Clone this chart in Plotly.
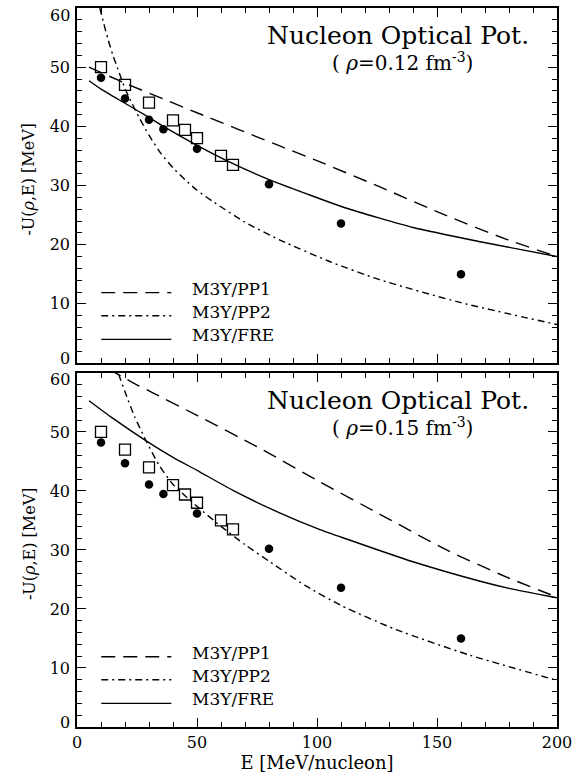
import plotly.graph_objects as go

# ---------------- data ----------------
# experimental points (same in both panels)
E_sq = [10, 20, 30, 40, 45, 50, 60, 65]
U_sq = [50.0, 47.0, 44.0, 41.0, 39.4, 38.0, 35.0, 33.5]
E_ci = [10, 20, 30, 36, 50, 80, 110, 160]
U_ci = [48.2, 44.7, 41.1, 39.5, 36.2, 30.2, 23.6, 15.0]

# rho = 0.12 fm^-3
pp1_E_a = [5, 20, 50, 85, 100, 126, 154, 179, 200]
pp1_U_a = [50.0, 47.3, 42.3, 36.6, 34.2, 29.8, 24.9, 20.9, 18.0]
pp2_E_a = [9.5, 11, 13, 15, 17, 20, 23, 26, 30, 35, 40, 45, 50, 57, 70, 85, 105, 126, 160, 200]
pp2_U_a = [60.0, 57.6, 54.6, 52.0, 49.7, 46.4, 43.8, 41.4, 38.5, 35.4, 33.0, 31.0, 29.2, 27.2, 23.8, 20.7, 17.2, 14.1, 10.2, 6.5]
fre_E_a = [5, 10, 20, 30, 36, 50, 65, 80, 95, 112, 140, 168, 200]
fre_U_a = [47.7, 46.3, 43.9, 41.5, 40.0, 36.8, 33.7, 31.0, 28.7, 26.2, 22.9, 20.5, 18.0]

# rho = 0.15 fm^-3
pp1_E_b = [5, 22.6, 31.8, 50, 75, 101, 126, 154, 179, 200]
pp1_U_b = [62.6, 58.5, 56.6, 52.8, 47.5, 41.6, 36.1, 30.0, 25.4, 22.0]
pp2_E_b = [15, 17.5, 20, 24, 28.8, 34, 40, 45, 50, 60, 70, 80, 95, 110, 133, 163.5, 200]
pp2_U_b = [62.5, 59.6, 56.8, 52.6, 48.5, 44.5, 41.1, 39.2, 37.4, 34.0, 30.9, 28.1, 24.0, 20.6, 16.5, 12.2, 7.9]
fre_E_b = [5, 15, 28.8, 40, 50, 65, 84.4, 101, 112, 140, 168, 180, 200]
fre_U_b = [55.3, 52.3, 48.5, 45.7, 43.5, 40.1, 36.3, 33.5, 31.9, 28.0, 24.7, 23.5, 21.9]

series_names = ["M3Y/PP1", "M3Y/PP2", "M3Y/FRE"]
rho_labels = ["0.12", "0.15"]
x_ticks = [0, 50, 100, 150, 200]
y_ticks_inner = [10, 20, 30, 40, 50]
y_edge_ticks = [0, 60]
x_minor = list(range(0, 201, 10))
y_minor = list(range(0, 61, 2))

# ---------------- styling ----------------
FONT = "DejaVu Serif"
DASH = "14px,8px"
DASHDOT = "7px,4px,2px,4px"
styles = [DASH, DASHDOT, "solid"]
BLACK = "black"

fig = go.Figure()

panels = [
    ("x", "y", [(pp1_E_a, pp1_U_a), (pp2_E_a, pp2_U_a), (fre_E_a, fre_U_a)], rho_labels[0]),
    ("x2", "y2", [(pp1_E_b, pp1_U_b), (pp2_E_b, pp2_U_b), (fre_E_b, fre_U_b)], rho_labels[1]),
]

annotations = []
shapes = []
for xa, ya, curves, rho in panels:
    for (ex, uy), dash in zip(curves, styles):
        fig.add_trace(go.Scatter(x=ex, y=uy, mode="lines", xaxis=xa, yaxis=ya,
                                 line=dict(color=BLACK, width=1.4, dash=dash, shape="spline", smoothing=0.6),
                                 showlegend=False, hoverinfo="skip"))
    fig.add_trace(go.Scatter(x=E_sq, y=U_sq, mode="markers", xaxis=xa, yaxis=ya,
                             marker=dict(symbol="square-open", size=11, color=BLACK,
                                         line=dict(color=BLACK, width=1.3)),
                             showlegend=False))
    fig.add_trace(go.Scatter(x=E_ci, y=U_ci, mode="markers", xaxis=xa, yaxis=ya,
                             marker=dict(symbol="circle", size=8.5, color=BLACK),
                             showlegend=False))
    # title texts
    annotations.append(dict(x=189, y=55.3, xref=xa, yref=ya, xanchor="right", yanchor="middle",
                            text="Nucleon Optical Pot.", showarrow=False,
                            font=dict(family=FONT, size=25, color=BLACK)))
    annotations.append(dict(x=166, y=50.9, xref=xa, yref=ya, xanchor="right", yanchor="middle",
                            text="( <i>ρ</i>=" + rho + " fm<sup>-3</sup>)", showarrow=False,
                            font=dict(family=FONT, size=20, color=BLACK)))
    # legend
    for name, dash, ly in zip(series_names, styles, [11.9, 8.0, 4.0]):
        shapes.append(dict(type="line", xref=xa, yref=ya, x0=10.1, x1=39.3, y0=ly, y1=ly,
                           line=dict(color=BLACK, width=1.4, dash=dash)))
        annotations.append(dict(x=47.0, y=ly, xref=xa, yref=ya, xanchor="left", yanchor="middle",
                                yshift=4, text=name, showarrow=False,
                                font=dict(family=FONT, size=17, color=BLACK)))
    # y-axis title
    annotations.append(dict(x=0, xref="paper", xshift=-48, y=31, yref=ya, textangle=-90,
                            xanchor="center", yanchor="middle", showarrow=False,
                            text="-U(<i>ρ</i>,E) [MeV]",
                            font=dict(family=FONT, size=16, color=BLACK)))
    # edge tick labels (0 and 60), nudged inside the frame as in the original
    for val, shift in zip(y_edge_ticks, [5, -7]):
        annotations.append(dict(x=0, xref="paper", xshift=-5, y=val, yref=ya, yshift=shift,
                                xanchor="right", yanchor="middle", showarrow=False,
                                text=str(val), font=dict(family=FONT, size=16, color=BLACK)))

axis_common = dict(showline=True, linecolor=BLACK, linewidth=1.5, mirror="allticks",
                   ticks="inside", ticklen=9, tickwidth=1.3, tickcolor=BLACK,
                   showgrid=False, zeroline=False,
                   tickfont=dict(family=FONT, size=16, color=BLACK))

xcommon = dict(axis_common, range=[0, 200], tickmode="array", tickvals=x_ticks,
               minor=dict(tickmode="array", tickvals=x_minor, ticks="inside", ticklen=5,
                          tickwidth=1.1, tickcolor=BLACK, showgrid=False))
ycommon = dict(axis_common, range=[0, 60], tickmode="array", tickvals=y_ticks_inner, ticklabelstandoff=2,
               minor=dict(tickmode="array", tickvals=y_minor, ticks="inside", ticklen=5,
                          tickwidth=1.1, tickcolor=BLACK, showgrid=False))

fig.update_layout(
    width=579, height=780,
    margin=dict(l=77, r=22, t=6, b=53),
    paper_bgcolor="white", plot_bgcolor="white",
    xaxis=dict(xcommon, domain=[0, 1], anchor="y", showticklabels=False),
    yaxis=dict(ycommon, domain=[0.5062, 1], anchor="x"),
    xaxis2=dict(xcommon, domain=[0, 1], anchor="y2",
                title=dict(text="E [MeV/nucleon]", font=dict(family=FONT, size=18, color=BLACK), standoff=2)),
    yaxis2=dict(ycommon, domain=[0, 0.4924], anchor="x2"),
    annotations=annotations,
    shapes=shapes,
    showlegend=False,
)

fig.write_html("out.html")
